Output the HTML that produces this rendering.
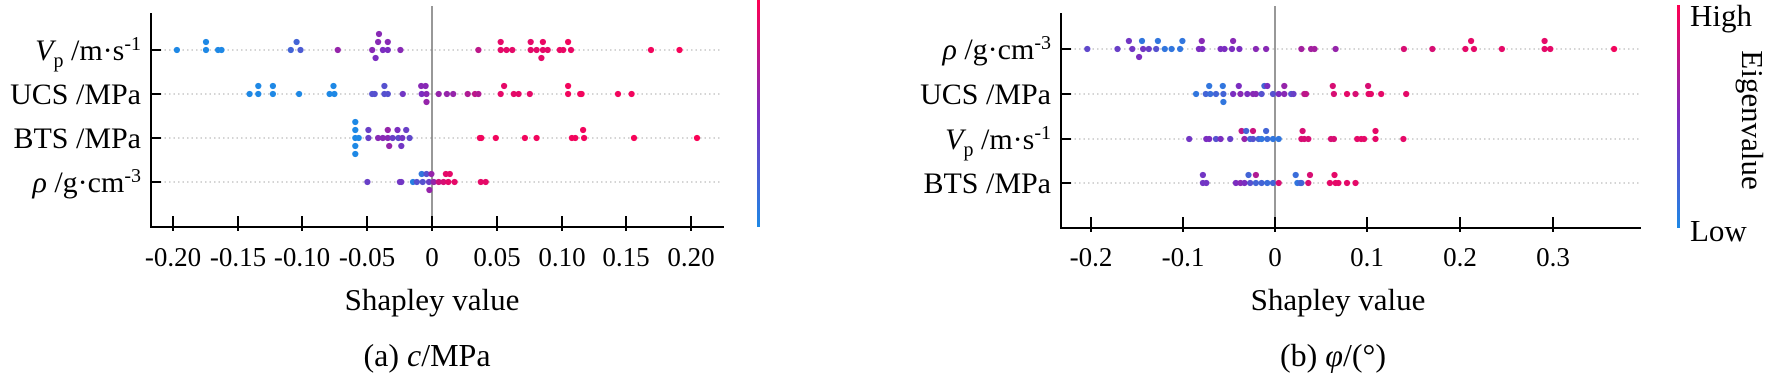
<!DOCTYPE html>
<html><head><meta charset="utf-8"><style>
html,body{margin:0;padding:0;background:#fff;}
svg{display:block;font-family:"Liberation Serif",serif;}
</style></head><body>
<svg id="s" width="1773" height="377" viewBox="0 0 1773 377" xmlns="http://www.w3.org/2000/svg">
<defs><linearGradient id="cb" x1="0" y1="1" x2="0" y2="0">
<stop offset="0" stop-color="#1e88e5"/><stop offset="0.5" stop-color="#7b2dc0"/><stop offset="1" stop-color="#ff0052"/></linearGradient></defs>
<g fill="#000" font-size="30">
<g stroke="#bbb" stroke-width="1.2" stroke-dasharray="1.5,3">
<line x1="160" y1="50" x2="722" y2="50"/><line x1="160" y1="94" x2="722" y2="94"/><line x1="160" y1="138" x2="722" y2="138"/><line x1="160" y1="182" x2="722" y2="182"/></g>
<line x1="432" y1="6" x2="432" y2="227" stroke="#777" stroke-width="1.5"/>
<path d="M151 13V227H724" fill="none" stroke="#000" stroke-width="2"/>
<g stroke="#000" stroke-width="2">
<line x1="151" y1="50" x2="161" y2="50"/><line x1="151" y1="94" x2="161" y2="94"/><line x1="151" y1="138" x2="161" y2="138"/><line x1="151" y1="182" x2="161" y2="182"/>
<line x1="173" y1="216" x2="173" y2="231"/><line x1="238" y1="216" x2="238" y2="231"/><line x1="302" y1="216" x2="302" y2="231"/><line x1="367" y1="216" x2="367" y2="231"/><line x1="432" y1="216" x2="432" y2="231"/><line x1="497" y1="216" x2="497" y2="231"/><line x1="562" y1="216" x2="562" y2="231"/><line x1="626" y1="216" x2="626" y2="231"/><line x1="691" y1="216" x2="691" y2="231"/></g>
<g font-size="27" text-anchor="middle">
<text x="173" y="266">-0.20</text><text x="238" y="266">-0.15</text><text x="302" y="266">-0.10</text><text x="367" y="266">-0.05</text><text x="432" y="266">0</text><text x="497" y="266">0.05</text><text x="562" y="266">0.10</text><text x="626" y="266">0.15</text><text x="691" y="266">0.20</text></g>
<g text-anchor="end">
<text x="141" y="60"><tspan font-style="italic">V</tspan><tspan font-size="20" dy="7">p</tspan><tspan dy="-7"> /m·s</tspan><tspan font-size="20" dy="-10">-1</tspan></text>
<text x="141" y="104">UCS /MPa</text>
<text x="141" y="148">BTS /MPa</text>
<text x="141" y="192"><tspan font-style="italic">ρ</tspan> /g·cm<tspan font-size="20" dy="-10">-3</tspan></text></g>
<text x="432" y="310" text-anchor="middle" font-size="31">Shapley value</text>
<text x="427" y="366" text-anchor="middle" font-size="32">(a) <tspan font-style="italic">c</tspan>/MPa</text>
<rect x="757" y="0" width="3" height="227" fill="url(#cb)"/>
<g stroke="#bbb" stroke-width="1.2" stroke-dasharray="1.5,3">
<line x1="1070" y1="49" x2="1640" y2="49"/><line x1="1070" y1="94" x2="1640" y2="94"/><line x1="1070" y1="139" x2="1640" y2="139"/><line x1="1070" y1="183" x2="1640" y2="183"/></g>
<line x1="1275" y1="6" x2="1275" y2="228" stroke="#777" stroke-width="1.5"/>
<path d="M1061 13V228H1641" fill="none" stroke="#000" stroke-width="2"/>
<g stroke="#000" stroke-width="2">
<line x1="1061" y1="49" x2="1071" y2="49"/><line x1="1061" y1="94" x2="1071" y2="94"/><line x1="1061" y1="139" x2="1071" y2="139"/><line x1="1061" y1="183" x2="1071" y2="183"/>
<line x1="1091" y1="217" x2="1091" y2="232"/><line x1="1183" y1="217" x2="1183" y2="232"/><line x1="1275" y1="217" x2="1275" y2="232"/><line x1="1367" y1="217" x2="1367" y2="232"/><line x1="1460" y1="217" x2="1460" y2="232"/><line x1="1553" y1="217" x2="1553" y2="232"/></g>
<g font-size="27" text-anchor="middle">
<text x="1091" y="266">-0.2</text><text x="1183" y="266">-0.1</text><text x="1275" y="266">0</text><text x="1367" y="266">0.1</text><text x="1460" y="266">0.2</text><text x="1553" y="266">0.3</text></g>
<g text-anchor="end">
<text x="1051" y="59"><tspan font-style="italic">ρ</tspan> /g·cm<tspan font-size="20" dy="-10">-3</tspan></text>
<text x="1051" y="104">UCS /MPa</text>
<text x="1051" y="149"><tspan font-style="italic">V</tspan><tspan font-size="20" dy="7">p</tspan><tspan dy="-7"> /m·s</tspan><tspan font-size="20" dy="-10">-1</tspan></text>
<text x="1051" y="193">BTS /MPa</text></g>
<text x="1338" y="310" text-anchor="middle" font-size="31">Shapley value</text>
<text x="1333" y="366" text-anchor="middle" font-size="32">(b) <tspan font-style="italic">φ</tspan>/(°)</text>
<rect x="1677" y="5" width="3" height="223" fill="url(#cb)"/>
<text x="1690" y="26" font-size="31">High</text>
<text x="1690" y="241" font-size="31">Low</text>
<text transform="translate(1742,120) rotate(90)" text-anchor="middle" font-size="31">Eigenvalue</text>
</g>
<g id="dots"></g>
</svg>
<script>
function col(t){var a=[30,136,229],b=[123,45,192],c=[255,0,82],p,q,u;
if(t<0.5){p=a;q=b;u=t/0.5}else{p=b;q=c;u=(t-0.5)/0.5}
return 'rgb('+[0,1,2].map(function(i){return Math.round(p[i]+(q[i]-p[i])*u)}).join(',')+')';}
var g=document.getElementById('dots'),ns='http://www.w3.org/2000/svg';
function add(x,y,t){var c=document.createElementNS(ns,'circle');c.setAttribute('cx',x.toFixed(1));c.setAttribute('cy',y.toFixed(1));c.setAttribute('r','3.1');c.setAttribute('fill',col(t));g.appendChild(c);}
var A={50:[[365,0,0],[425,-1,0],[425,0,0],[450,0,0],[457,0,0],[600,0,.2],[612,-1,.2],[620,0,.25],[697,0,.6],[768,0,.55],[780,-1,.55],[782,-2,.55],[790,0,.5],[800,-1,.55],[775,1,.5],[800,0,.5],[826,0,.55],[987,0,.75],[1033,-1,.9],[1033,0,.9],[1045,0,.9],[1057,0,.9],[1095,-1,.9],[1095,0,.9],[1107,0,.9],[1120,-1,.92],[1120,0,.9],[1117,1,.9],[1130,0,.9],[1155,0,.92],[1162,0,.92],[1172,-1,.95],[1178,0,.92],[1343,0,.95],[1402,0,.97]],
94:[[515,0,0],[533,-1,0],[533,0,0],[563,-1,0],[563,0,0],[617,0,0],[680,0,0],[688,-1,0],[690,0,0],[768,0,.3],[773,0,.3],[793,-1,.3],[793,0,.3],[800,0,.3],[831,0,.45],[869,-1,.55],[878,-1,.55],[870,0,.5],[880,0,.55],[880,1,.6],[905,0,.6],[922,0,.6],[935,0,.6],[965,0,.7],[980,0,.75],[987,0,.7],[1033,0,.9],[1040,-1,.9],[1060,0,.9],[1070,0,.9],[1093,0,.9],[1172,-1,.95],[1172,0,.95],[1197,0,.95],[1200,0,.95],[1275,0,.95],[1303,0,.95]],
138:[[733,-2,0],[733,-1,0],[733,0,0],[733,1,0],[733,2,0],[740,0,0],[760,-1,.4],[760,0,.4],[780,0,.55],[790,0,.55],[800,-1,.6],[800,0,.55],[803,1,.6],[810,0,.4],[820,-1,.5],[822,0,.35],[830,0,.45],[828,1,.45],[845,0,.35],[838,-1,.4],[990,0,.95],[993,0,.95],[1023,0,.95],[1083,0,.95],[1107,0,.95],[1180,0,.95],[1187,0,.95],[1203,-1,.95],[1205,0,.95],[1308,0,.97],[1438,0,.98]],
182:[[758,0,.4],[825,0,.45],[828,0,.45],[852,0,.05],[860,0,.3],[870,-1,.1],[872,0,.3],[880,-1,.3],[885,0,.4],[890,-1,.6],[895,0,.6],[886,1,.6],[905,0,.8],[915,0,.85],[920,-1,.9],[928,-1,.9],[925,0,.9],[938,0,.9],[992,0,.9],[1002,0,.9]]};
for(var y in A)A[y].forEach(function(d){add(d[0]*0.4847,+y+d[1]*8,d[2]);});
var B={49:[[364,0,.35],[417,0,.4],[437,-1,.45],[443,0,.45],[460,-1,.1],[455,1,.5],[462,0,.45],[472,0,.4],[485,0,.3],[488,-1,.1],[500,0,.1],[512,0,.1],[527,0,.1],[531,-1,.1],[560,0,.5],[565,-1,.55],[566,0,.5],[598,0,.5],[605,0,.5],[620,-1,.55],[618,0,.5],[631,0,.5],[660,0,.55],[678,0,.55],[740,0,.65],[757,0,.65],[763,0,.65],[800,0,.6],[920,0,.85],[970,0,.85],[1028,0,.9],[1038,-1,.9],[1043,0,.9],[1092,0,.9],[1167,-1,.9],[1167,0,.9],[1177,0,.9],[1289,0,.95]],
94:[[555,0,.1],[572,0,.2],[578,-1,.1],[580,0,.15],[590,0,.2],[602,-1,.1],[603,0,.2],[603,1,.1],[620,0,.5],[630,-1,.5],[633,0,.55],[645,0,.5],[655,0,.55],[660,0,.55],[675,-1,.2],[680,-1,.5],[670,0,.3],[690,0,.3],[700,0,.5],[710,-1,.6],[710,0,.55],[722,0,.3],[726,0,.4],[745,0,.75],[748,0,.75],[795,-1,.85],[797,0,.85],[820,0,.9],[835,0,.85],[857,-1,.85],[858,0,.9],[862,0,.9],[880,0,.9],[924,0,.9]],
139:[[543,0,.45],[573,0,.5],[578,0,.5],[590,0,.3],[598,0,.5],[615,0,.4],[635,-1,.75],[643,-1,.2],[655,-1,.8],[640,0,.6],[650,0,.2],[655,0,.3],[665,0,.2],[670,0,.1],[678,-1,.2],[680,0,.15],[690,0,.1],[700,0,.1],[742,-1,.85],[740,0,.85],[745,0,.85],[752,0,.85],[792,0,.85],[797,0,.85],[838,0,.9],[845,0,.9],[850,0,.9],[870,-1,.9],[870,0,.9],[919,0,.9]],
183:[[567,-1,.45],[567,0,.45],[573,0,.45],[625,0,.5],[633,0,.55],[640,0,.5],[647,-1,.2],[650,0,.3],[660,-1,.7],[660,0,.2],[670,0,.2],[680,0,.15],[690,0,.2],[700,0,.85],[730,-1,.15],[733,0,.1],[738,0,.15],[740,0,.2],[755,-1,.85],[752,0,.85],[790,0,.9],[798,-1,.9],[800,0,.9],[805,0,.9],[820,0,.9],[835,0,.9]]};
for(var y in B)B[y].forEach(function(d){add(880+d[0]*0.5695,+y+d[1]*8,d[2]);});
</script>
</body></html>
